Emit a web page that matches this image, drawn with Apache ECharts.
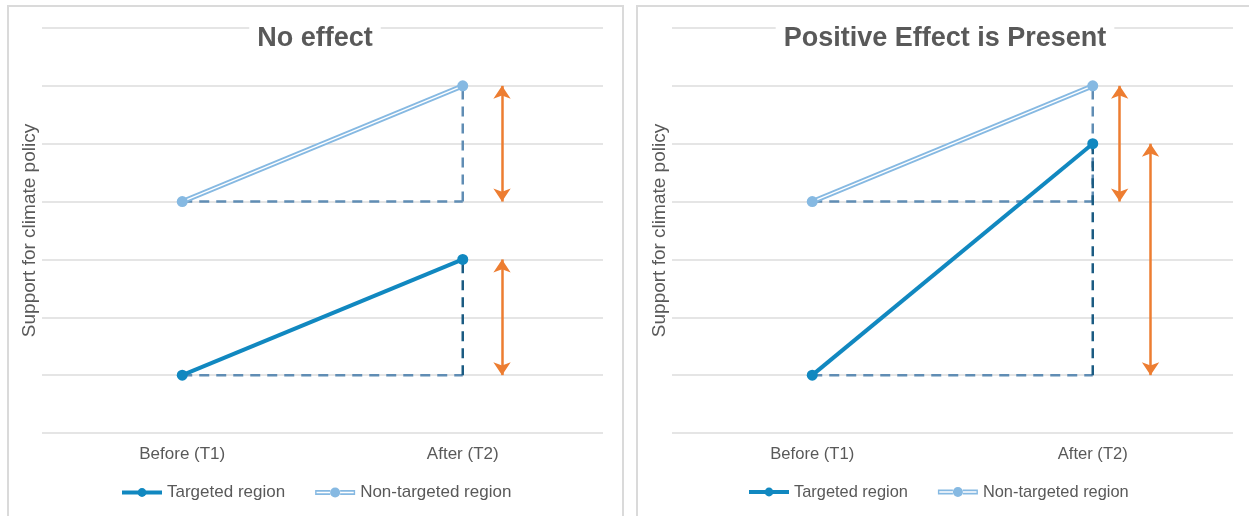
<!DOCTYPE html>
<html>
<head>
<meta charset="utf-8">
<title>Support for climate policy: before and after</title>
<script src="https://cdn.jsdelivr.net/npm/echarts@6/dist/echarts.min.js"></script>
<style>
  html, body { margin: 0; padding: 0; background: #ffffff; }
  #chart { width: 1249px; height: 516px; }
</style>
</head>
<body>
<div id="chart"></div>
<script>
// Time points on the x axis
const periods = ['Before (T1)', 'After (T2)'];

// Panel 1: no effect (both regions rise by the same amount)
const noEffectTargeted = [1, 3];
const noEffectNonTargeted = [4, 6];

// Panel 2: positive effect (targeted region rises more)
const positiveTargeted = [1, 5];
const positiveNonTargeted = [4, 6];

const panelTitles = ['No effect', 'Positive Effect is Present'];
const yAxisTitle = 'Support for climate policy';
const legendNames = ['Targeted region', 'Non-targeted region'];

// Horizontal placement of the change arrows on a hidden value axis (0 = T1, 1 = T2)
const noEffectArrowX = [1.14, 1.14];
const positiveArrowX = [1.096, 1.206];

const TEXT = '#595959';
const GRID = '#dcdcdc';
const TARGET = '#1188c0';
const NONTARGET = '#86b9e2';
const DASH_LIGHT = '#608db4';
const DASH_DARK = '#1b5b82';
const ARROW = '#ed7d31';
const FONT = '"Liberation Sans", Arial, Helvetica, sans-serif';

// Legend icon for the double-stroked line: two thin strips with a dot in the middle
const hollowIcon = 'path://M0,2.6H15V4.2H1.4V5.8H15V7.4H0Z' +
  'M25,2.6H40V7.4H25V5.8H38.6V4.2H25Z' +
  'M15,5A5,5 0 1,0 25,5A5,5 0 1,0 15,5Z';

function panelSeries(g, targeted, nonTargeted, arrowX) {
  const base = { xAxisIndex: g, yAxisIndex: g, silent: true, emphasis: { disabled: true }, animation: false };
  const dash = (pts, color) => Object.assign({}, base, {
    type: 'line', symbol: 'none',
    data: pts,
    lineStyle: { type: [10, 7], width: 2.5, color: color }
  });
  return [
    // baselines carried forward from T1
    dash([[periods[0], nonTargeted[0]], [periods[1], nonTargeted[0]]], DASH_LIGHT),
    dash([[periods[0], targeted[0]], [periods[1], targeted[0]]], DASH_LIGHT),
    dash([[periods[1], nonTargeted[0]], [periods[1], nonTargeted[1]]], DASH_LIGHT),
    dash([[periods[1], targeted[0]], [periods[1], targeted[1]]], DASH_DARK),
    // non-targeted region: double stroke (wide coloured line with a white core)
    Object.assign({}, base, {
      type: 'line', symbol: 'none', data: nonTargeted,
      lineStyle: { width: 5, color: NONTARGET }
    }),
    Object.assign({}, base, {
      type: 'line', symbol: 'none', data: nonTargeted,
      lineStyle: { width: 1.5, color: '#ffffff' }
    }),
    Object.assign({}, base, {
      type: 'line', name: legendNames[1], data: nonTargeted,
      symbol: 'circle', symbolSize: 11, showSymbol: true,
      itemStyle: { color: NONTARGET },
      lineStyle: { width: 0, opacity: 0, color: NONTARGET }
    }),
    // targeted region
    Object.assign({}, base, {
      type: 'line', name: legendNames[0], data: targeted,
      symbol: 'circle', symbolSize: 11, showSymbol: true,
      itemStyle: { color: TARGET },
      lineStyle: { width: 4, color: TARGET }
    }),
    // change arrows
    Object.assign({}, base, {
      type: 'line', xAxisIndex: g + 2, yAxisIndex: g, data: [],
      markLine: {
        silent: true, animation: false,
        symbol: ['arrow', 'arrow'], symbolSize: [13, 13],
        label: { show: false },
        emphasis: { disabled: true },
        lineStyle: { color: ARROW, width: 2.5, type: 'solid' },
        data: [
          [{ coord: [arrowX[0], nonTargeted[1]] }, { coord: [arrowX[0], nonTargeted[0]] }],
          [{ coord: [arrowX[1], targeted[1]] }, { coord: [arrowX[1], targeted[0]] }]
        ]
      }
    })
  ];
}

function categoryAxis(g, size) {
  return {
    type: 'category', gridIndex: g, data: periods,
    axisLine: { show: false }, axisTick: { show: false },
    splitLine: { show: false },
    axisLabel: { color: TEXT, fontSize: size, margin: 13, fontFamily: FONT }
  };
}
function valueXAxis(g) {
  return { type: 'value', gridIndex: g, min: -0.5, max: 1.5, show: false };
}
function valueYAxis(g) {
  return {
    type: 'value', gridIndex: g, min: 0, max: 7, interval: 1,
    axisLabel: { show: false }, axisLine: { show: false }, axisTick: { show: false },
    splitLine: { lineStyle: { color: GRID, width: 1.5 } },
    name: yAxisTitle, nameLocation: 'middle', nameGap: 3,
    nameTextStyle: { color: TEXT, fontSize: 19, fontFamily: FONT }
  };
}
function legend(left, size) {
  return {
    left: left, top: 484, orient: 'horizontal', padding: 0,
    itemWidth: 40, itemHeight: 11, itemGap: 30,
    selectedMode: false,
    textStyle: { color: TEXT, fontSize: size, fontFamily: FONT },
    data: [
      { name: legendNames[0], lineStyle: { width: 4 } },
      { name: legendNames[1], icon: hollowIcon }
    ]
  };
}
function title(text, left) {
  return {
    text: text, left: left, top: 23, textAlign: 'center',
    backgroundColor: '#ffffff', padding: [2, 8],
    textStyle: { color: TEXT, fontSize: 27, fontWeight: 'bold', fontFamily: FONT }
  };
}

const chart = echarts.init(document.getElementById('chart'), null, { renderer: 'canvas' });
chart.setOption({
  animation: false,
  backgroundColor: '#ffffff',
  textStyle: { fontFamily: FONT },
  title: [title(panelTitles[0], 307), title(panelTitles[1], 937)],
  legend: [legend(120, 17), legend(747, 16.4)],
  graphic: [
    { type: 'rect', silent: true, shape: { x: 8, y: 6, width: 615, height: 540 },
      style: { fill: 'none', stroke: '#dadada', lineWidth: 2 } },
    { type: 'rect', silent: true, shape: { x: 637, y: 6, width: 640, height: 540 },
      style: { fill: 'none', stroke: '#dadada', lineWidth: 2 } }
  ],
  grid: [
    { left: 42, top: 28, width: 561, height: 405 },
    { left: 672, top: 28, width: 561, height: 405 }
  ],
  xAxis: [categoryAxis(0, 17), categoryAxis(1, 16.6), valueXAxis(0), valueXAxis(1)],
  yAxis: [valueYAxis(0), valueYAxis(1)],
  series: [].concat(
    panelSeries(0, noEffectTargeted, noEffectNonTargeted, noEffectArrowX),
    panelSeries(1, positiveTargeted, positiveNonTargeted, positiveArrowX)
  )
});
</script>
</body>
</html>
